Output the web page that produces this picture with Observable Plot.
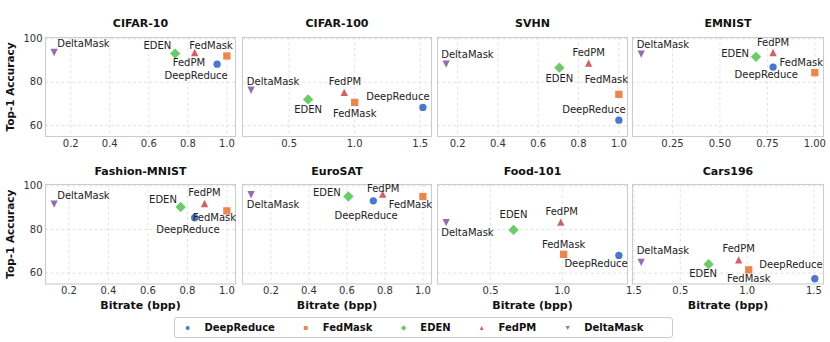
<!DOCTYPE html>
<html>
<head>
<meta charset="utf-8">
<script src="https://cdn.jsdelivr.net/npm/d3@7"></script>
<script src="https://cdn.jsdelivr.net/npm/@observablehq/plot@0.6"></script>
<style>
  body { margin: 0; background: #fff; }
  #chart { position: relative; width: 830px; height: 342px; overflow: hidden; background: #fff; font-family: "DejaVu Sans", sans-serif; }
  #legend { position: absolute; left: 174px; top: 317px; width: 499px; height: 21px; box-sizing: border-box;
            border: 1px solid #cccccc; border-radius: 3px; display: flex; align-items: center; padding-left: 10px; }
  #legend .sw { width: 10px; height: 10px; margin-right: 14px; display: block; }
  #legend .lab { font-weight: bold; font-size: 10px; color: #111; margin-right: 28.5px; white-space: nowrap; }
</style>
</head>
<body>
<div id="chart"><div id="legend"></div></div>
<script>
// ---- data (order of values follows `methods`) ----
const methods = ["DeepReduce", "FedMask", "EDEN", "FedPM", "DeltaMask"];
const colors  = ["#4878d0", "#ee854a", "#6acc64", "#d65f5f", "#956cb4"];
const datasets = ["CIFAR-10", "CIFAR-100", "SVHN", "EMNIST", "Fashion-MNIST", "EuroSAT", "Food-101", "Cars196"];

const cifar10Bitrate    = [0.95, 1.0, 0.735, 0.835, 0.115];
const cifar10Accuracy   = [88.3, 92.1, 93.2, 93.7, 93.7];
const cifar100Bitrate   = [1.52, 1.0, 0.645, 0.92, 0.21];
const cifar100Accuracy  = [68.4, 70.7, 72.1, 75.3, 76.3];
const svhnBitrate       = [1.0, 1.0, 0.705, 0.85, 0.143];
const svhnAccuracy      = [62.5, 74.4, 86.7, 88.8, 88.3];
const emnistBitrate     = [0.78, 1.0, 0.69, 0.78, 0.085];
const emnistAccuracy    = [87.0, 84.4, 91.7, 93.7, 92.9];
const fashionBitrate    = [0.837, 1.0, 0.766, 0.887, 0.125];
const fashionAccuracy   = [85.4, 88.5, 90.3, 91.9, 91.6];
const eurosatBitrate    = [0.739, 1.0, 0.608, 0.788, 0.096];
const eurosatAccuracy   = [93.1, 95.1, 95.1, 96.2, 95.9];
const food101Bitrate    = [1.395, 1.01, 0.66, 0.99, 0.19];
const food101Accuracy   = [68.1, 68.6, 79.8, 83.4, 83.1];
const cars196Bitrate    = [1.507, 1.012, 0.712, 0.937, 0.207];
const cars196Accuracy   = [57.4, 61.5, 64.1, 66.1, 64.9];

const ticks01   = [0.2, 0.4, 0.6, 0.8, 1.0];
const ticks01L  = ["0.2", "0.4", "0.6", "0.8", "1.0"];
const ticks05   = [0.5, 1.0, 1.5];
const ticks05L  = ["0.5", "1.0", "1.5"];
const ticks025  = [0.25, 0.5, 0.75, 1.0];
const ticks025L = ["0.25", "0.50", "0.75", "1.00"];
const yTicks    = [60, 80, 100];
const yTickLabels = ["60", "80", "100"];

// ---- annotation offsets (px, label centre relative to marker), per method ----
const labelOffsets = [
  [[-21, 11.7], [-15.8, -10], [-17.8, -7.3], [-5.8, 10.7], [29.3, -9]],
  [[-25, -10.3], [0, 11], [0, 10.7], [0.7, -10.7], [22, -8.7]],
  [[-25, -10.3], [-12.5, -14.3], [0, 11], [0, -10.7], [21.3, -9]],
  [[-6.8, 7.3], [-13.5, -10], [-20.8, -3.3], [0, -10], [21.7, -9]],
  [[-6.8, 11.7], [-12.5, 6.7], [-17.7, -6.7], [0, -10.3], [29.3, -8.3]],
  [[-7.2, 15], [-12.5, 8.3], [-21.5, -3.3], [0.5, -5.7], [22, 10.3]],
  [[-22.8, 8.3], [0, -10], [0, -14.7], [0.8, -10.3], [21.3, 10]],
  [[-23.8, -14], [0, 8.7], [-5.5, 10], [0, -10.7], [21.7, -12]]
];

const panels = [
  {bitrate: cifar10Bitrate, accuracy: cifar10Accuracy, ticks: ticks01, tickLabels: ticks01L},
  {bitrate: cifar100Bitrate, accuracy: cifar100Accuracy, ticks: ticks05, tickLabels: ticks05L},
  {bitrate: svhnBitrate, accuracy: svhnAccuracy, ticks: ticks01, tickLabels: ticks01L},
  {bitrate: emnistBitrate, accuracy: emnistAccuracy, ticks: ticks025, tickLabels: ticks025L},
  {bitrate: fashionBitrate, accuracy: fashionAccuracy, ticks: ticks01, tickLabels: ticks01L},
  {bitrate: eurosatBitrate, accuracy: eurosatAccuracy, ticks: ticks01, tickLabels: ticks01L},
  {bitrate: food101Bitrate, accuracy: food101Accuracy, ticks: ticks05, tickLabels: ticks05L},
  {bitrate: cars196Bitrate, accuracy: cars196Accuracy, ticks: ticks05, tickLabels: ticks05L}
].map((p, i) => ({...p, title: datasets[i]}));

// ---- marker symbols (matplotlib-like: o, s, D, ^, v) ----
const diam = size => 2 * Math.sqrt(size / Math.PI);
const symbols = [
  {draw(c, size) { const s = diam(size) / 2; c.moveTo(s, 0); c.arc(0, 0, s, 0, 2 * Math.PI); c.closePath(); }},
  {draw(c, size) { const s = diam(size); c.rect(-s / 2, -s / 2, s, s); }},
  {draw(c, size) { const d = diam(size) * Math.SQRT2 / 2; c.moveTo(0, -d); c.lineTo(d, 0); c.lineTo(0, d); c.lineTo(-d, 0); c.closePath(); }},
  {draw(c, size) { const s = diam(size) / 2; c.moveTo(0, -s); c.lineTo(s, s); c.lineTo(-s, s); c.closePath(); }},
  {draw(c, size) { const s = diam(size) / 2; c.moveTo(0, s); c.lineTo(s, -s); c.lineTo(-s, -s); c.closePath(); }}
];
const R = 3.65;

// ---- layout ----
const colLeft = [45, 242, 437, 632], colRight = [235, 431, 627, 823];
const rowTop = [37, 183.5], rowBottom = [136, 283];
const mL = 46, mR = 12, mT = 30, mB = 30;
const yDomain = [55, 100.6];

const chart = document.getElementById("chart");

panels.forEach((p, i) => {
  const r = Math.floor(i / 4), c = i % 4;
  const fw = colRight[c] - colLeft[c], fh = rowBottom[r] - rowTop[r];
  const rows = methods.map((m, k) => ({method: m, k, bitrate: p.bitrate[k], accuracy: p.accuracy[k]}));
  const ext = d3.extent(p.bitrate);
  const pad = (ext[1] - ext[0]) * 0.05;
  const grid = {stroke: "#dcdcdc", strokeOpacity: 1, strokeWidth: 0.8, strokeDasharray: "3,2.5"};
  const marks = [
    Plot.ruleX(p.ticks, grid),
    Plot.ruleY(yTicks, grid),
    Plot.frame({stroke: "#cccccc", strokeWidth: 1.1}),
    ...methods.map((m, k) => Plot.dot(rows.filter(d => d.k === k), {
      x: "bitrate", y: "accuracy", symbol: symbols[k], r: R, fill: colors[k], stroke: "none"
    })),
    ...methods.map((m, k) => Plot.text(rows.filter(d => d.k === k), {
      x: "bitrate", y: "accuracy", text: "method",
      dx: labelOffsets[i][k][0], dy: labelOffsets[i][k][1],
      textAnchor: "middle", lineAnchor: "middle", fontSize: 10, fill: "#222"
    })),
    Plot.text([p.title], {frameAnchor: "top", dy: r === 0 ? -13.7 : -12.8, textAnchor: "middle", lineAnchor: "middle",
      fontWeight: "bold", fontSize: 11, fill: "#111"})
  ];
  if (c === 0) marks.push(Plot.text(["Top-1 Accuracy"], {frameAnchor: "left", rotate: -90, dx: -35,
      textAnchor: "middle", lineAnchor: "middle", fontWeight: "bold", fontSize: 10.5, fill: "#111"}));
  if (r === 1) marks.push(Plot.text(["Bitrate (bpp)"], {frameAnchor: "bottom", dy: 21,
      textAnchor: "middle", lineAnchor: "middle", fontWeight: "bold", fontSize: 11, fill: "#111"}));

  const svg = Plot.plot({
    width: fw + mL + mR,
    height: fh + mT + mB,
    marginLeft: mL, marginRight: mR, marginTop: mT, marginBottom: mB,
    style: {background: "transparent", overflow: "visible", fontFamily: "DejaVu Sans", fontSize: "10px", color: "#333"},
    x: {domain: [ext[0] - pad, ext[1] + pad], ticks: p.ticks, tickSize: 0, tickPadding: 3,
        tickFormat: d => p.tickLabels[p.ticks.indexOf(d)], label: null},
    y: c === 0
      ? {domain: yDomain, ticks: yTicks, tickSize: 0, tickPadding: 3,
         tickFormat: d => yTickLabels[yTicks.indexOf(d)], label: null}
      : {domain: yDomain, axis: null},
    marks
  });
  svg.style.position = "absolute";
  svg.style.left = (colLeft[c] - mL) + "px";
  svg.style.top = (rowTop[r] - mT) + "px";
  svg.style.maxWidth = "none";
  chart.appendChild(svg);
});

// ---- legend ----
const legend = document.getElementById("legend");
methods.forEach((m, k) => {
  const path = d3.path();
  symbols[k].draw(path, Math.PI * R * R);
  const sw = document.createElementNS("http://www.w3.org/2000/svg", "svg");
  sw.setAttribute("class", "sw");
  sw.setAttribute("viewBox", "-5 -5 10 10");
  const pe = document.createElementNS("http://www.w3.org/2000/svg", "path");
  pe.setAttribute("d", path.toString());
  pe.setAttribute("fill", colors[k]);
  sw.appendChild(pe);
  const lab = document.createElement("span");
  lab.className = "lab";
  lab.textContent = m;
  legend.appendChild(sw);
  legend.appendChild(lab);
});
</script>
</body>
</html>
